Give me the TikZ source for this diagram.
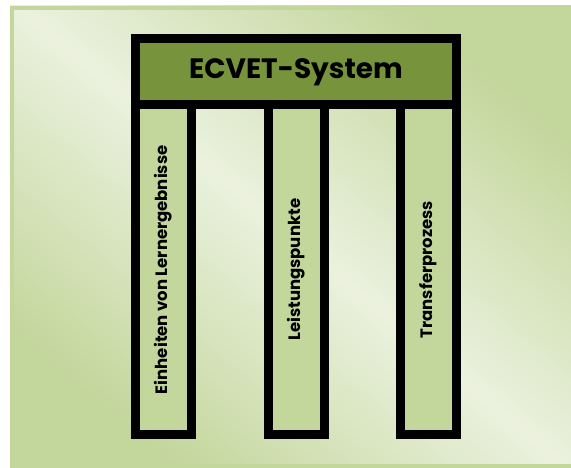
\documentclass[tikz,border=0pt]{standalone}
\usepackage{fontspec}
\newfontfamily\ecvetfont{Poppins}
\definecolor{rahmengruen}{HTML}{C3D69B}
\definecolor{hellgruen}{HTML}{EBF1DE}
\definecolor{dachgruen}{HTML}{77933C}
\definecolor{saeulengruen}{HTML}{C3D69B}
\tikzset{
    dach/.style={draw=black, line width=9pt, fill=dachgruen, inner sep=0pt,
        minimum width=321pt, minimum height=66.5pt,
        font=\ecvetfont\bfseries\fontsize{28}{30}\selectfont},
    saeule/.style={draw=black, line width=9pt, fill=saeulengruen, inner sep=0pt,
        rotate=90, minimum width=329.5pt, minimum height=56pt,
        font=\ecvetfont\bfseries\fontsize{16.5}{18}\selectfont}
}
\begin{document}
\begin{tikzpicture}[x=1pt, y=-1pt]
        % Rahmen
        \useasboundingbox (0, 0) rectangle (571, 468);
        \clip (0, 0) rectangle (571, 468);
        \shade[top color=rahmengruen, bottom color=rahmengruen, middle color=hellgruen, shading angle=-40]
            (10, 6) rectangle (575, 468);
        \draw[rahmengruen, line width=4pt] (12, 8) rectangle (575, 466);

        % Saeulen
        \node[saeule] (einheiten) at (163.5, 269.75) {Einheiten von Lernergebnisse};
        \node[saeule] (punkte) at (296, 269.75) {Leistungspunkte};
        \node[saeule] (transfer) at (428, 269.75) {Transferprozess};

        % Dach
        \node[dach] (system) at (296, 71.75) {ECVET-System};
    \end{tikzpicture}
\end{document}
